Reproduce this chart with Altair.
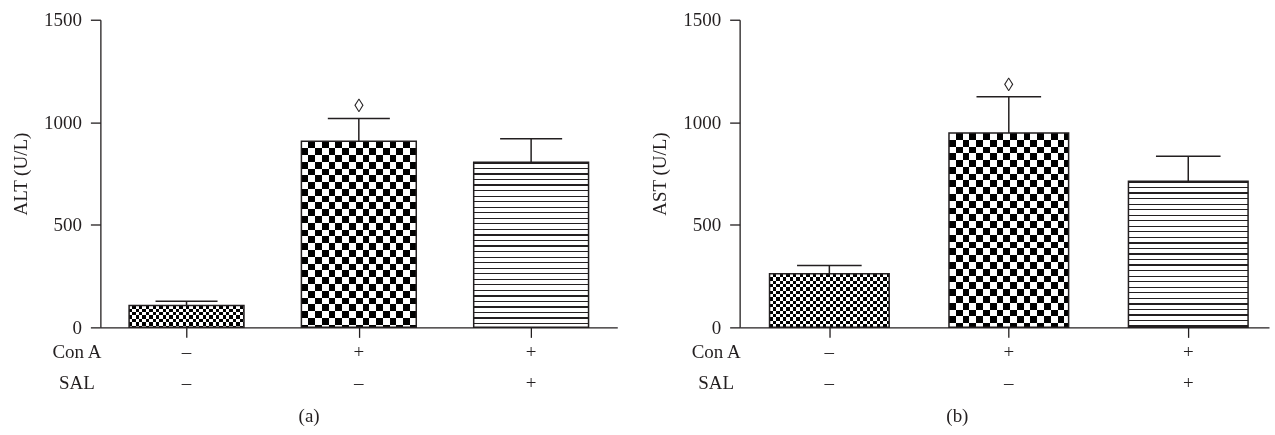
import altair as alt
import pandas as pd

# ---- data ----
groups = [1, 2, 3]
con_a = ["–", "+", "+"]
sal = ["–", "–", "+"]
alt_mean = [107, 907, 805]
alt_err = [20, 112, 115]
ast_mean = [261, 948, 712]
ast_err = [41, 177, 122]
sig = ["", "◊", ""]
row_labels = ["Con A", "SAL"]
panel_tags = ["(a)", "(b)"]
y_titles = ["ALT (U/L)", "AST (U/L)"]
y_ticks = [0, 500, 1000, 1500]

FONT = "Liberation Serif"
FS = 19
INK = "#231f20"
H = 308
YMAX = 1500


def segments(length, period, on):
    segs = []
    k = 0
    while k * period < length:
        base = k * period
        for s, e, flag in ((base, base + on, True), (base + on, base + period, False)):
            s2, e2 = max(s, 0.0), min(e, length)
            if e2 > s2:
                segs.append((s2, e2, flag))
        k += 1
    return segs


def gradient(length, period, on, horizontal, c_on="#000000", c_off="#ffffff"):
    stops = []
    for s, e, flag in segments(length, period, on):
        col = c_on if flag else c_off
        stops.append(alt.GradientStop(offset=round(s / length, 5), color=col))
        stops.append(alt.GradientStop(offset=round(e / length, 5), color=col))
    if horizontal:
        return alt.LinearGradient(gradient="linear", stops=stops, x1=0, y1=0, x2=1, y2=0)
    return alt.LinearGradient(gradient="linear", stops=stops, x1=0, y1=0, x2=0, y2=1)


def panel(means, errs, ytitle, tag, width, x_hi, tag_x):
    df = pd.DataFrame({"g": groups, "mean": means, "err": errs,
                       "con_a": con_a, "sal": sal, "sig": sig})
    step = width / (x_hi - 0.5)
    bar_w = step * 2 / 3
    xs = alt.Scale(domain=[0.5, x_hi], nice=False, zero=False)
    ys = alt.Scale(domain=[0, YMAX], nice=False)
    xaxis = alt.Axis(values=groups, labels=False, tickSize=10, tickWidth=1.3,
                     tickColor=INK, domainColor=INK, domainWidth=1.3,
                     grid=False, title="")
    yaxis = alt.Axis(values=y_ticks, format="d", tickSize=10, tickWidth=1.3, tickColor=INK,
                     domainColor=INK, domainWidth=1.3, grid=False,
                     labelFont=FONT, labelFontSize=FS, labelColor=INK, labelPadding=9,
                     title=ytitle, titleFont=FONT, titleFontSize=FS,
                     titleFontWeight="normal", titleColor=INK,
                     titleX=-80, titleY=H / 2, titleAlign="center",
                     titleBaseline="middle")

    def X(f):
        return alt.X(f"{f}:Q", scale=xs, axis=xaxis)

    def Y(f):
        return alt.Y(f"{f}:Q", scale=ys, axis=yaxis)

    base = alt.Chart(df).transform_calculate(
        x0="datum.g - 1/3", x1="datum.g + 1/3", hi="datum.mean + datum.err",
        c0="datum.g - 0.18", c1="datum.g + 0.18", zero="0")
    enc = dict(x=X("x0"), x2="x1", y=Y("mean"), y2="zero:Q")

    layers = []
    for i, (g, m) in enumerate(zip(groups, means)):
        h = m / YMAX * H
        sub = base.transform_filter(f"datum.g == {g}")
        if i in (0, 1):
            s = 3.35 if i == 0 else 6.8
            layers.append(sub.mark_rect(fill=gradient(h, 2 * s, s, False)).encode(**enc))
            layers.append(sub.mark_rect(
                fill=gradient(bar_w, 2 * s, s, True, c_on="#ffffff", c_off="#000000"),
                blend="difference").encode(**enc))
        else:
            layers.append(sub.mark_rect(
                fill=gradient(h, 5.55, 1.25, False, c_on=INK)).encode(**enc))
    layers.append(base.mark_rect(fillOpacity=0, stroke=INK, strokeWidth=1.5).encode(**enc))
    layers.append(base.mark_rule(color=INK, strokeWidth=1.5).encode(
        x=X("g"), y=Y("mean"), y2="hi:Q"))
    layers.append(base.mark_rule(color=INK, strokeWidth=1.5).encode(
        x=X("c0"), x2="c1", y=Y("hi")))
    layers.append(base.mark_text(font=FONT, fontSize=FS, dy=-12, baseline="middle",
                                 color=INK).encode(x=X("g"), y=Y("hi"), text="sig:N"))
    layers.append(base.mark_text(font=FONT, fontSize=FS, baseline="middle",
                                 color=INK).encode(x=X("g"), y=alt.value(333), text="con_a:N"))
    layers.append(base.mark_text(font=FONT, fontSize=FS, baseline="middle",
                                 color=INK).encode(x=X("g"), y=alt.value(364), text="sal:N"))
    lab = pd.DataFrame({"lab": row_labels, "row": [0, 1]})
    for r, yv in ((0, 333), (1, 364)):
        layers.append(alt.Chart(lab).transform_filter(f"datum.row == {r}").mark_text(
            font=FONT, fontSize=FS, baseline="middle", align="center", color=INK).encode(
            x=alt.value(-23.5), y=alt.value(yv), text="lab:N"))
    layers.append(alt.Chart(pd.DataFrame({"tag": [tag]})).mark_text(
        font=FONT, fontSize=FS, baseline="middle", align="center", color=INK).encode(
        x=alt.value(tag_x), y=alt.value(397), text="tag:N"))
    return alt.layer(*layers).properties(width=width, height=H)


left = panel(alt_mean, alt_err, y_titles[0], panel_tags[0], 517.5, 3.5, 209)
right = panel(ast_mean, ast_err, y_titles[1], panel_tags[1], 530, 3.45, 218)

chart = alt.hconcat(left, right, spacing=32).properties(
    padding={"left": 10.5, "top": 9.5, "right": 5, "bottom": 5}
).configure_view(stroke="transparent")

chart.save("out.html", embed_options={"renderer": "svg", "actions": False})
